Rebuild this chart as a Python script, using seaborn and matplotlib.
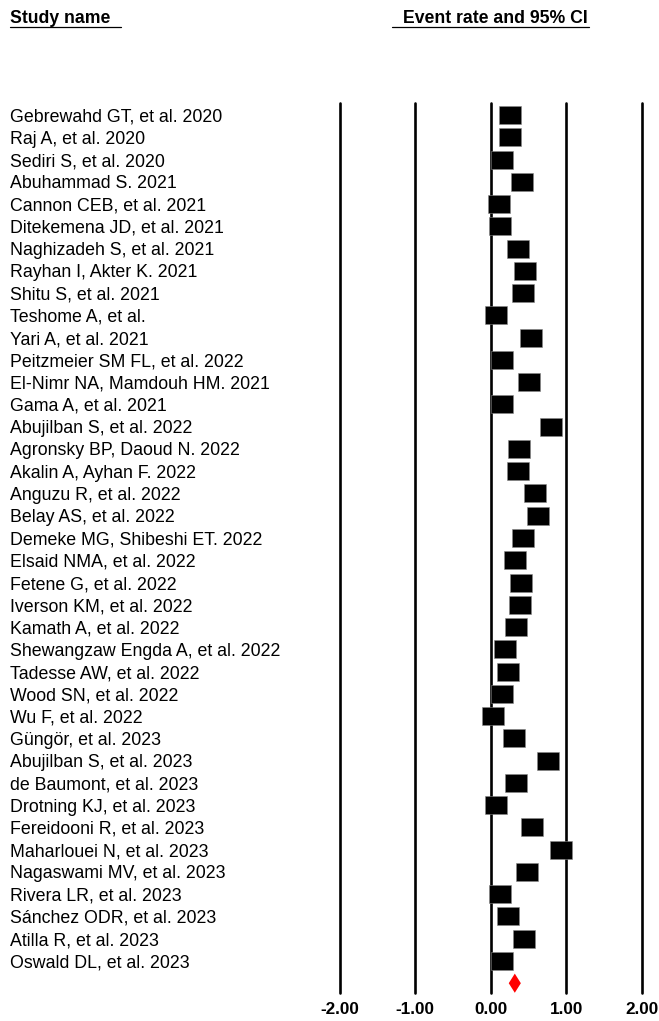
import numpy as np
import pandas as pd
import seaborn as sns
import matplotlib.pyplot as plt
from matplotlib.path import Path
import matplotlib.transforms as mtransforms

#%% dados
estudos = [
    'Gebrewahd GT, et al. 2020', 'Raj A, et al. 2020', 'Sediri S, et al. 2020',
    'Abuhammad S. 2021', 'Cannon CEB, et al. 2021', 'Ditekemena JD, et al. 2021',
    'Naghizadeh S, et al. 2021', 'Rayhan I, Akter K. 2021', 'Shitu S, et al. 2021',
    'Teshome A, et al.', 'Yari A, et al. 2021', 'Peitzmeier SM FL, et al. 2022',
    'El-Nimr NA, Mamdouh HM. 2021', 'Gama A, et al. 2021', 'Abujilban S, et al. 2022',
    'Agronsky BP, Daoud N. 2022', 'Akalin A, Ayhan F. 2022', 'Anguzu R, et al. 2022',
    'Belay AS, et al. 2022', 'Demeke MG, Shibeshi ET. 2022', 'Elsaid NMA, et al. 2022',
    'Fetene G, et al. 2022', 'Iverson KM, et al. 2022', 'Kamath A, et al. 2022',
    'Shewangzaw Engda A, et al. 2022', 'Tadesse AW, et al. 2022', 'Wood SN, et al. 2022',
    'Wu F, et al. 2022', 'Güngör, et al. 2023', 'Abujilban S, et al. 2023',
    'de Baumont, et al. 2023', 'Drotning KJ, et al. 2023', 'Fereidooni R, et al. 2023',
    'Maharlouei N, et al. 2023', 'Nagaswami MV, et al. 2023', 'Rivera LR, et al. 2023',
    'Sánchez ODR, et al. 2023', 'Atilla R, et al. 2023', 'Oswald DL, et al. 2023',
]
taxa = [0.25, 0.25, 0.15, 0.41, 0.11, 0.12, 0.355, 0.456, 0.425, 0.075,
        0.53, 0.15, 0.50, 0.147, 0.80, 0.377, 0.36, 0.583, 0.627, 0.425,
        0.316, 0.395, 0.39, 0.33, 0.193, 0.226, 0.15, 0.026, 0.307, 0.76,
        0.333, 0.075, 0.544, 0.934, 0.474, 0.118, 0.232, 0.443, 0.15]
# estimativa combinada (diamante)
geral = 0.318
geral_li = 0.238
geral_ls = 0.398
ticks = [-2, -1, 0, 1, 2]

df = pd.DataFrame({'estudo': estudos, 'taxa': taxa})
df['linha'] = np.arange(len(df))

#%% figura
sns.set_style('white')
plt.rcParams['font.family'] = ['Liberation Sans', 'DejaVu Sans']
plt.rcParams['text.color'] = 'black'
plt.rcParams['xtick.color'] = 'black'

fig = plt.figure(figsize=(6.59, 10.21), dpi=100)
ax = fig.add_axes([339.5 / 659, 28 / 1021, (642 - 339.5) / 659, (993 - 103) / 1021])

# linhas verticais
for t in ticks:
    ax.axvline(t, color='black', lw=1.9, clip_on=False, zorder=1)

# marcador retangular (22 x 18 px)
caixa = Path([(-11, -9), (11, -9), (11, 9), (-11, 9), (-11, -9)],
             [Path.MOVETO, Path.LINETO, Path.LINETO, Path.LINETO, Path.CLOSEPOLY])
sns.scatterplot(data=df, x='taxa', y='linha', marker=caixa, s=(22 * 0.72) ** 2,
                color='black', edgecolor='#888888', linewidth=0.4, ax=ax, zorder=3,
                legend=False)

# diamante
yd = len(df)
ax.fill([geral_li, geral, geral_ls, geral], [yd, yd - 0.43, yd, yd + 0.43],
        color='red', zorder=3, lw=0)

ax.set_xlim(-2, 2)
ax.set_ylim(39.44, -0.54)
sns.despine(ax=ax, left=True, bottom=True, top=True, right=True)
ax.set_xlabel('')
ax.set_ylabel('')
ax.set_yticks([])
ax.set_xticks(ticks)
ax.set_xticklabels(['%.2f' % t for t in ticks], fontsize=12.3, fontweight='bold')
ax.tick_params(axis='x', length=0, pad=6.5, labelcolor='black')

# nomes dos estudos
trans = mtransforms.blended_transform_factory(fig.transFigure, ax.transData)
for _, r in df.iterrows():
    ax.text(10 / 659, r['linha'], r['estudo'], transform=trans, fontsize=12.8,
            ha='left', va='center_baseline', color='black')

# cabecalhos sublinhados
fig.text(10 / 659, 1 - 23.3 / 1021, 'Study name', fontsize=12.7, fontweight='bold',
         ha='left', va='baseline')
fig.add_artist(plt.Line2D([10 / 659, 120.5 / 659], [1 - 27 / 1021] * 2, color='black', lw=0.9))
fig.text(402.7 / 659, 1 - 23.3 / 1021, 'Event rate and 95% CI', fontsize=12.7, fontweight='bold',
         ha='left', va='baseline')
fig.add_artist(plt.Line2D([392 / 659, 589 / 659], [1 - 27 / 1021] * 2, color='black', lw=0.9))

plt.savefig('out.png', dpi=100)
